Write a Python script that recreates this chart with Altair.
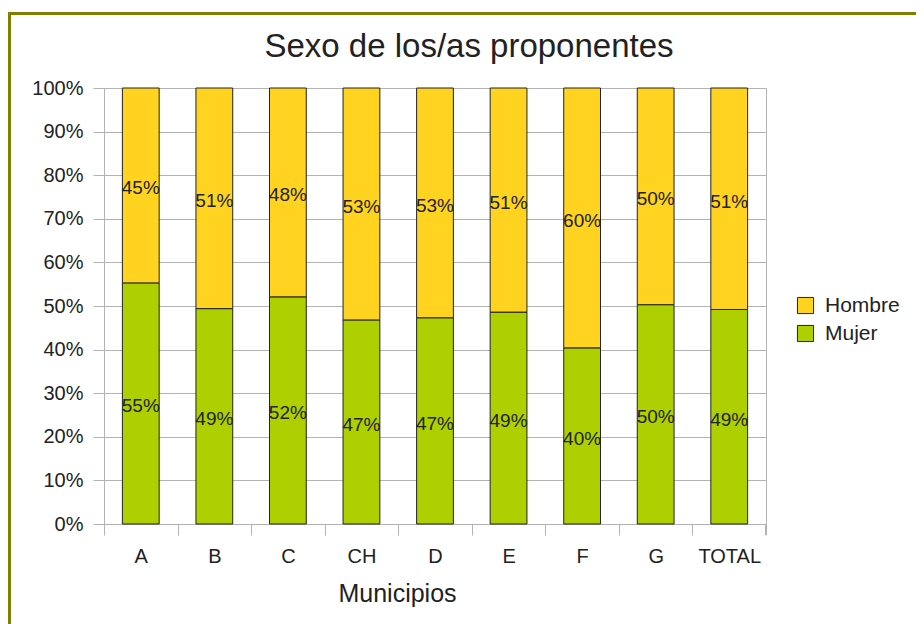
import altair as alt
import pandas as pd

municipios = ["A", "B", "C", "CH", "D", "E", "F", "G", "TOTAL"]
mujer = [0.553, 0.494, 0.521, 0.468, 0.473, 0.486, 0.404, 0.503, 0.492]
hombre = [0.447, 0.506, 0.479, 0.532, 0.527, 0.514, 0.596, 0.497, 0.508]
colores = ["#ffd320", "#aecf00"]  # Hombre, Mujer

rows = []
for i, m in enumerate(municipios):
    rows.append({"municipio": m, "sexo": "Mujer", "orden": 0, "valor": mujer[i]})
    rows.append({"municipio": m, "sexo": "Hombre", "orden": 1, "valor": hombre[i]})
df = pd.DataFrame(rows)

FONT = "Liberation Sans"
W, H = 662, 436

xenc = alt.X(
    "municipio:N",
    sort=municipios,
    scale=alt.Scale(paddingInner=0, paddingOuter=0),
    axis=alt.Axis(
        title="Municipios",
        labelAngle=0,
        labelFontSize=20,
        labelPadding=11,
        tickBand="extent",
        tickSize=11,
        tickColor="#b3b3b3",
        domainColor="#b3b3b3",
        grid=False,
        titleFontSize=25,
        titleFontWeight="normal",
        titlePadding=15,
        titleX=293,
        titleAlign="center",
    ),
)

base = alt.Chart(df).transform_stack(
    stack="valor",
    groupby=["municipio"],
    as_=["y0", "y1"],
    sort=[alt.SortField("orden", order="ascending")],
).transform_calculate(mid="(datum.y0 + datum.y1) / 2")

bars = base.mark_bar(
    width=alt.RelativeBandSize(0.5), stroke="#222222", strokeWidth=1
).encode(
    x=xenc,
    y=alt.Y(
        "y0:Q",
        scale=alt.Scale(domain=[0, 1]),
        axis=alt.Axis(
            title=None,
            format=".0%",
            values=[i / 10 for i in range(11)],
            labelFontSize=20,
            labelPadding=10,
            tickSize=11,
            tickColor="#b3b3b3",
            gridColor="#b3b3b3",
            domainColor="#b3b3b3",
        ),
    ),
    y2="y1:Q",
    color=alt.Color(
        "sexo:N",
        scale=alt.Scale(domain=["Hombre", "Mujer"], range=colores),
        legend=alt.Legend(
            title=None,
            orient="none",
            legendX=691,
            legendY=207,
            symbolType="square",
            symbolSize=260,
            symbolStrokeColor="#222222",
            symbolStrokeWidth=1,
            symbolOpacity=1,
            labelFontSize=21,
            labelOffset=9,
            rowPadding=6,
            padding=0,
        ),
    ),
)

labels = base.mark_text(fontSize=19, color="#222222", font=FONT, dy=3).encode(
    x=alt.X("municipio:N", sort=municipios),
    y=alt.Y("mid:Q"),
    text=alt.Text("valor:Q", format=".0%"),
)

tick_end = alt.Chart(df).mark_rule(color="#b3b3b3").encode(
    x=alt.value(W), y=alt.value(H), y2=alt.value(H + 11)
)

border = alt.Chart(df).mark_rect(
    fillOpacity=0, stroke="#808000", strokeWidth=3
).encode(
    x=alt.value(-94.5), x2=alt.value(W + 300), y=alt.value(-74.5), y2=alt.value(H + 300)
)

chart = (
    alt.layer(border, bars, labels, tick_end)
    .properties(
        width=W,
        height=H,
        autosize=alt.AutoSizeParams(type="none"),
        padding={"left": 96, "top": 80, "right": 150, "bottom": 100},
        title=alt.TitleParams(
            "Sexo de los/as proponentes",
            fontSize=33,
            fontWeight="normal",
            font=FONT,
            color="#222222",
            anchor="middle",
            frame="group",
            dx=34,
            dy=78,
            baseline="alphabetic",
            offset=0,
        ),
    )
    .configure(font=FONT)
    .configure_axis(labelColor="#222222", titleColor="#222222", labelFont=FONT, titleFont=FONT)
    .configure_legend(labelColor="#222222", labelFont=FONT)
    .configure_view(stroke="#b3b3b3")
)

chart.save("out.html", embed_options={"renderer": "svg", "actions": False})
